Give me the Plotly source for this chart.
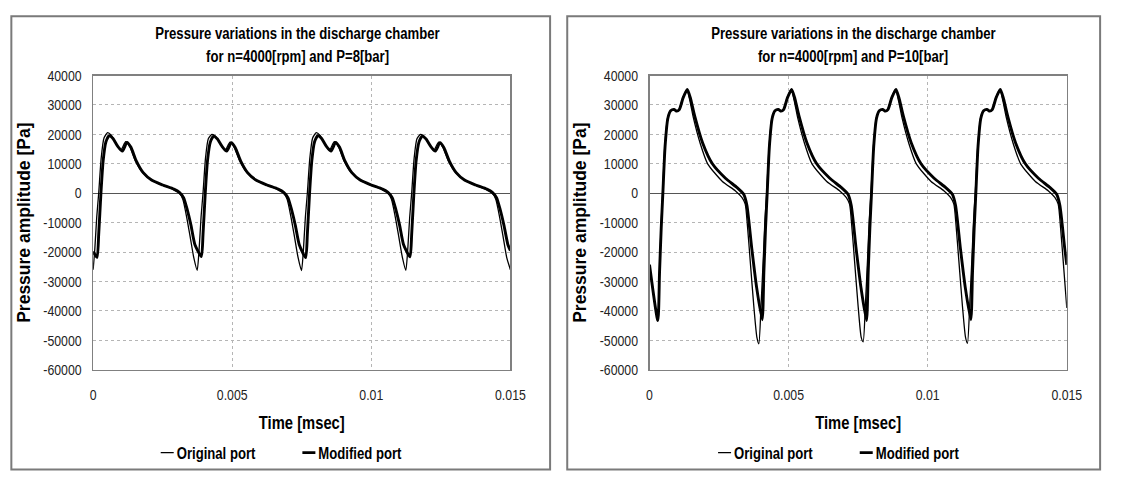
import plotly.graph_objects as go

# ---------------- data (time in ms, pressure in Pa) ----------------
# Left panel: P = 8 bar
t_orig_8 = [0.00, 0.06, 0.13, 0.20, 0.29, 0.39, 0.52, 0.65, 0.82, 0.99, 1.17, 1.32, 1.52, 1.78, 2.08, 2.48, 2.88, 3.08, 3.22, 3.36, 3.50, 3.62, 3.74,
            3.81, 3.88, 3.95, 4.04, 4.14, 4.27, 4.40, 4.57, 4.74, 4.92, 5.07, 5.27, 5.53, 5.83, 6.23, 6.63, 6.83, 6.97, 7.11, 7.25, 7.37, 7.49,
            7.56, 7.63, 7.70, 7.79, 7.89, 8.02, 8.15, 8.32, 8.49, 8.67, 8.82, 9.02, 9.28, 9.58, 9.98, 10.38, 10.58, 10.72, 10.86, 11.00, 11.12, 11.24,
            11.31, 11.38, 11.45, 11.54, 11.64, 11.77, 11.90, 12.07, 12.24, 12.42, 12.57, 12.77, 13.03, 13.33, 13.73, 14.13, 14.33, 14.47, 14.61, 14.75, 14.87, 15.00]
p_orig_8 = [-26000, -19000, -8000, 0, 12000, 18800, 20600, 19700, 17000, 14600, 17500, 15700, 11000, 7000, 4500, 2800, 1300, 200, -2000, -8000, -15500, -22000, -26200,
            -19000, -8000, 0, 12000, 18500, 20000, 19300, 16800, 14500, 17400, 15600, 11000, 7000, 4500, 2800, 1300, 200, -2000, -8000, -15500, -22000, -26300,
            -19000, -8000, 0, 12000, 18800, 20600, 19700, 17000, 14600, 17500, 15700, 11000, 7000, 4500, 2800, 1300, 200, -2000, -8000, -15500, -22000, -26200,
            -19000, -8000, 0, 12000, 18500, 20000, 19300, 16800, 14500, 17400, 15600, 11000, 7000, 4500, 2800, 1300, 200, -2000, -8000, -15500, -22000, -26000]

t_mod_8 = [0.00, 0.14, 0.20, 0.28, 0.36, 0.46, 0.58, 0.72, 0.88, 1.05, 1.22, 1.36, 1.55, 1.80, 2.10, 2.50, 2.90, 3.10, 3.25, 3.38, 3.52, 3.66,
           3.89, 3.95, 4.03, 4.11, 4.21, 4.33, 4.47, 4.63, 4.80, 4.97, 5.11, 5.30, 5.55, 5.85, 6.25, 6.65, 6.85, 7.00, 7.13, 7.27, 7.41,
           7.64, 7.70, 7.78, 7.86, 7.96, 8.08, 8.22, 8.38, 8.55, 8.72, 8.86, 9.05, 9.30, 9.60, 10.00, 10.40, 10.60, 10.75, 10.88, 11.02, 11.16,
           11.39, 11.45, 11.53, 11.61, 11.71, 11.83, 11.97, 12.13, 12.30, 12.47, 12.61, 12.80, 13.05, 13.35, 13.75, 14.15, 14.35, 14.50, 14.63, 14.77, 14.91, 15.00]
p_mod_8 = [-19800, -21800, -14000, 0, 11000, 17500, 19600, 18500, 16000, 14300, 17300, 15600, 11000, 7000, 4500, 2800, 1400, 300, -1500, -5500, -11000, -17500,
           -21500, -14000, 0, 11000, 17300, 19400, 18400, 16000, 14300, 17200, 15500, 11000, 7000, 4500, 2800, 1400, 300, -1500, -5500, -11000, -17500,
           -21900, -14000, 0, 11000, 17500, 19600, 18500, 16000, 14300, 17300, 15600, 11000, 7000, 4500, 2800, 1400, 300, -1500, -5500, -11000, -17500,
           -21600, -14000, 0, 11000, 17300, 19400, 18400, 16000, 14300, 17200, 15500, 11000, 7000, 4500, 2800, 1400, 300, -1500, -5500, -11000, -17500, -19500]

# Right panel: P = 10 bar
t_orig_10 = [0.00, 0.29, 0.36, 0.41, 0.47, 0.55, 0.65, 0.75, 0.87, 0.97, 1.06, 1.20, 1.34, 1.45, 1.58, 1.82, 2.09, 2.62, 3.09, 3.32, 3.44, 3.52, 3.62, 3.75, 3.86, 3.93,
             4.01, 4.09, 4.15, 4.21, 4.30, 4.40, 4.50, 4.62, 4.72, 4.81, 4.95, 5.09, 5.20, 5.33, 5.57, 5.84, 6.37, 6.84, 7.07, 7.19, 7.27, 7.37, 7.50, 7.61, 7.68,
             7.76, 7.84, 7.90, 7.96, 8.05, 8.15, 8.25, 8.37, 8.47, 8.56, 8.70, 8.84, 8.95, 9.08, 9.32, 9.59, 10.12, 10.59, 10.82, 10.94, 11.02, 11.12, 11.25, 11.36, 11.43,
             11.51, 11.59, 11.65, 11.71, 11.80, 11.90, 12.00, 12.12, 12.22, 12.31, 12.45, 12.59, 12.70, 12.83, 13.07, 13.34, 13.87, 14.34, 14.57, 14.69, 14.77, 14.87, 15.00]
p_orig_10 = [-24300, -43300, -27000, -12000, 0, 16000, 25500, 28000, 28500, 27900, 28400, 32500, 35300, 31500, 25500, 17000, 10000, 4000, 800, -1400, -3700, -11000, -23000, -38500, -49000, -51200,
             -38000, -22000, -9000, 0, 16000, 25500, 28000, 28500, 27900, 28400, 32500, 35300, 31500, 25500, 17000, 10000, 4000, 800, -1400, -3700, -11000, -23000, -38500, -49000, -50500,
             -38000, -22000, -9000, 0, 16000, 25500, 28000, 28500, 27900, 28400, 32500, 35300, 31500, 25500, 17000, 10000, 4000, 800, -1400, -3700, -11000, -23000, -38500, -49000, -51000,
             -38000, -22000, -9000, 0, 16000, 25500, 28000, 28500, 27900, 28400, 32500, 35300, 31500, 25500, 17000, 10000, 4000, 800, -1400, -3700, -11000, -23000, -39000]

t_mod_10 = [0.00, 0.30, 0.36, 0.42, 0.48, 0.56, 0.66, 0.76, 0.88, 0.98, 1.07, 1.21, 1.36, 1.48, 1.62, 1.91, 2.26, 2.73, 3.15, 3.38, 3.50, 3.67, 3.85,
            4.05, 4.11, 4.17, 4.23, 4.31, 4.41, 4.51, 4.63, 4.73, 4.82, 4.96, 5.11, 5.23, 5.37, 5.66, 6.01, 6.48, 6.90, 7.13, 7.25, 7.42, 7.60,
            7.80, 7.86, 7.92, 7.98, 8.06, 8.16, 8.26, 8.38, 8.48, 8.57, 8.71, 8.86, 8.98, 9.12, 9.41, 9.76, 10.23, 10.65, 10.88, 11.00, 11.17, 11.35,
            11.55, 11.61, 11.67, 11.73, 11.81, 11.91, 12.01, 12.13, 12.23, 12.32, 12.46, 12.61, 12.73, 12.87, 13.16, 13.51, 13.98, 14.40, 14.63, 14.75, 14.92, 15.00]
p_mod_10 = [-24300, -43300, -27000, -12000, 0, 16000, 25500, 28000, 28500, 27900, 28400, 32500, 35300, 32000, 26400, 17100, 10000, 5100, 1900, -300, -4100, -18300, -32000,
            -43000, -27000, -12000, 0, 16000, 25500, 28000, 28500, 27900, 28400, 32500, 35300, 32000, 26400, 17100, 10000, 5100, 1900, -300, -4100, -18300, -32000,
            -43300, -27000, -12000, 0, 16000, 25500, 28000, 28500, 27900, 28400, 32500, 35300, 32000, 26400, 17100, 10000, 5100, 1900, -300, -4100, -18300, -32000,
            -43000, -27000, -12000, 0, 16000, 25500, 28000, 28500, 27900, 28400, 32500, 35300, 32000, 26400, 17100, 10000, 5100, 1900, -300, -4100, -18300, -24300]

series_names = ["Original port", "Modified port"]
titles = ["Pressure variations in the discharge chamber", "for n=4000[rpm] and P=8[bar]", "for n=4000[rpm] and P=10[bar]"]
x_title = "Time [msec]"
y_title = "Pressure amplitude [Pa]"
x_tick_vals = [0, 0.005, 0.01, 0.015]
x_tick_text = ["0", "0.005", "0.01", "0.015"]
y_tick_vals = [40000, 30000, 20000, 10000, 0, -10000, -20000, -30000, -40000, -50000, -60000]
y_tick_text = ["40000", "30000", "20000", "10000", "0", "-10000", "-20000", "-30000", "-40000", "-50000", "-60000"]

# ---------------- figure ----------------
W, H = 1124, 480
FONT = "Liberation Sans, Arial, sans-serif"


def px_x(v):
    return v / W


def px_y(v):
    return 1 - v / H


def sec(ms_list):
    return [v / 1000.0 for v in ms_list]


fig = go.Figure()
panels = [
    ("x", "y", "legend", t_orig_8, p_orig_8, t_mod_8, p_mod_8),
    ("x2", "y2", "legend2", t_orig_10, p_orig_10, t_mod_10, p_mod_10),
]
for xa, ya, lg, to, po, tm, pm in panels:
    fig.add_trace(go.Scatter(x=sec(to), y=po, mode="lines", name=series_names[0],
                             line=dict(color="black", width=1.3, shape="spline", smoothing=0.6),
                             xaxis=xa, yaxis=ya, legend=lg))
    fig.add_trace(go.Scatter(x=sec(tm), y=pm, mode="lines", name=series_names[1],
                             line=dict(color="black", width=2.9, shape="spline", smoothing=0.6),
                             xaxis=xa, yaxis=ya, legend=lg))

plot_top, plot_bot = 69, 374
doms = [(91, 517), (659, 1085)]


def xaxis_cfg(d, anchor):
    return dict(domain=[px_x(d[0]), px_x(d[1])], range=[0, 0.015], anchor=anchor,
                tickvals=x_tick_vals, ticktext=x_tick_text,
                showline=True, linecolor="#808080", linewidth=1.5, mirror=True,
                showgrid=True, gridcolor="#b5b5b5", griddash="dot", gridwidth=1,
                zeroline=False, ticks="", ticklabelstandoff=11,
                tickfont=dict(family=FONT, size=15, color="#222"),
                title=dict(text=x_title, standoff=14,
                           font=dict(family=FONT, size=18, color="black", weight="bold")),
                fixedrange=True)


def yaxis_cfg(anchor):
    return dict(domain=[px_y(plot_bot), px_y(plot_top)], range=[-60000, 40000], anchor=anchor,
                tickvals=y_tick_vals, ticktext=y_tick_text,
                showline=True, linecolor="#808080", linewidth=1.5, mirror=True,
                showgrid=True, gridcolor="#b5b5b5", griddash="dot", gridwidth=1,
                zeroline=True, zerolinecolor="#555555", zerolinewidth=1.3,
                ticks="", ticklabelstandoff=7,
                tickfont=dict(family=FONT, size=15, color="#222"),
                title=dict(text=y_title, standoff=0,
                           font=dict(family=FONT, size=17.5, color="black", weight="bold")),
                fixedrange=True)


shapes = []
for (x0, x1) in [(7.5, 557.5), (575, 1119)]:
    shapes.append(dict(type="rect", xref="paper", yref="paper",
                       x0=px_x(x0), x1=px_x(x1), y0=px_y(477.5), y1=px_y(7.5),
                       line=dict(color="#7a7a7a", width=2), fillcolor="rgba(0,0,0,0)", layer="below"))

annotations = []
for cx, sub in [(300, titles[1]), (867, titles[2])]:
    annotations.append(dict(text=titles[0], xref="paper", yref="paper", x=px_x(cx), y=px_y(25.5),
                            xanchor="center", yanchor="middle", showarrow=False,
                            font=dict(family=FONT, size=16, color="black", weight="bold")))
    annotations.append(dict(text=sub, xref="paper", yref="paper", x=px_x(cx), y=px_y(49),
                            xanchor="center", yanchor="middle", showarrow=False,
                            font=dict(family=FONT, size=16, color="black", weight="bold")))

legend_font = dict(family=FONT, size=16, color="black", weight="bold")

fig.update_layout(
    width=W, height=H,
    margin=dict(l=0, r=0, t=0, b=0),
    paper_bgcolor="white", plot_bgcolor="white",
    xaxis=xaxis_cfg(doms[0], "y"), yaxis=yaxis_cfg("x"),
    xaxis2=xaxis_cfg(doms[1], "y2"), yaxis2=yaxis_cfg("x2"),
    shapes=shapes, annotations=annotations,
    legend=dict(orientation="h", x=px_x(283), xanchor="center", y=px_y(460), yanchor="middle",
                font=legend_font, bgcolor="rgba(0,0,0,0)", itemwidth=30, tracegroupgap=0),
    legend2=dict(orientation="h", x=px_x(852), xanchor="center", y=px_y(460), yanchor="middle",
                 font=legend_font, bgcolor="rgba(0,0,0,0)", itemwidth=30, tracegroupgap=0),
    showlegend=True,
)

# The reference uses a narrow (condensed) face; condense those texts horizontally,
# shorten the legend line samples, and remove the default page margin.
post_js = """
var st = document.createElement('style');
st.textContent = 'html,body{margin:0 !important;padding:0 !important;overflow:hidden;}' +
  ' text.legendtext, text.legend2text{transform-box:fill-box;transform-origin:0% 50%;transform:scaleX(0.82);}' +
  ' g.legendlines path{d:path("M24,0h13");}';
document.head.appendChild(st);
var gd = document.getElementById('{plot_id}');
var sel = 'text.annotation-text, g.xtick text, g.x2tick text, g.ytick text, g.y2tick text, text.xtitle, text.x2title';
function condense() {
  var els = document.querySelectorAll(sel);
  for (var i = 0; i < els.length; i++) {
    var el = els[i];
    if (el.getAttribute('data-cond') === el.textContent && el.hasAttribute('textLength')) { continue; }
    el.removeAttribute('textLength');
    var w = el.getComputedTextLength();
    if (w > 0) {
      el.setAttribute('textLength', (w * 0.82).toFixed(2));
      el.setAttribute('lengthAdjust', 'spacingAndGlyphs');
      el.setAttribute('data-cond', el.textContent);
    }
  }
}
condense();
new MutationObserver(function () { condense(); }).observe(gd, {childList: true, subtree: true, characterData: true});
gd.on('plotly_afterplot', condense);
setTimeout(condense, 0);
"""

fig.write_html("out.html", post_script=post_js, config={"displayModeBar": False, "staticPlot": True})
